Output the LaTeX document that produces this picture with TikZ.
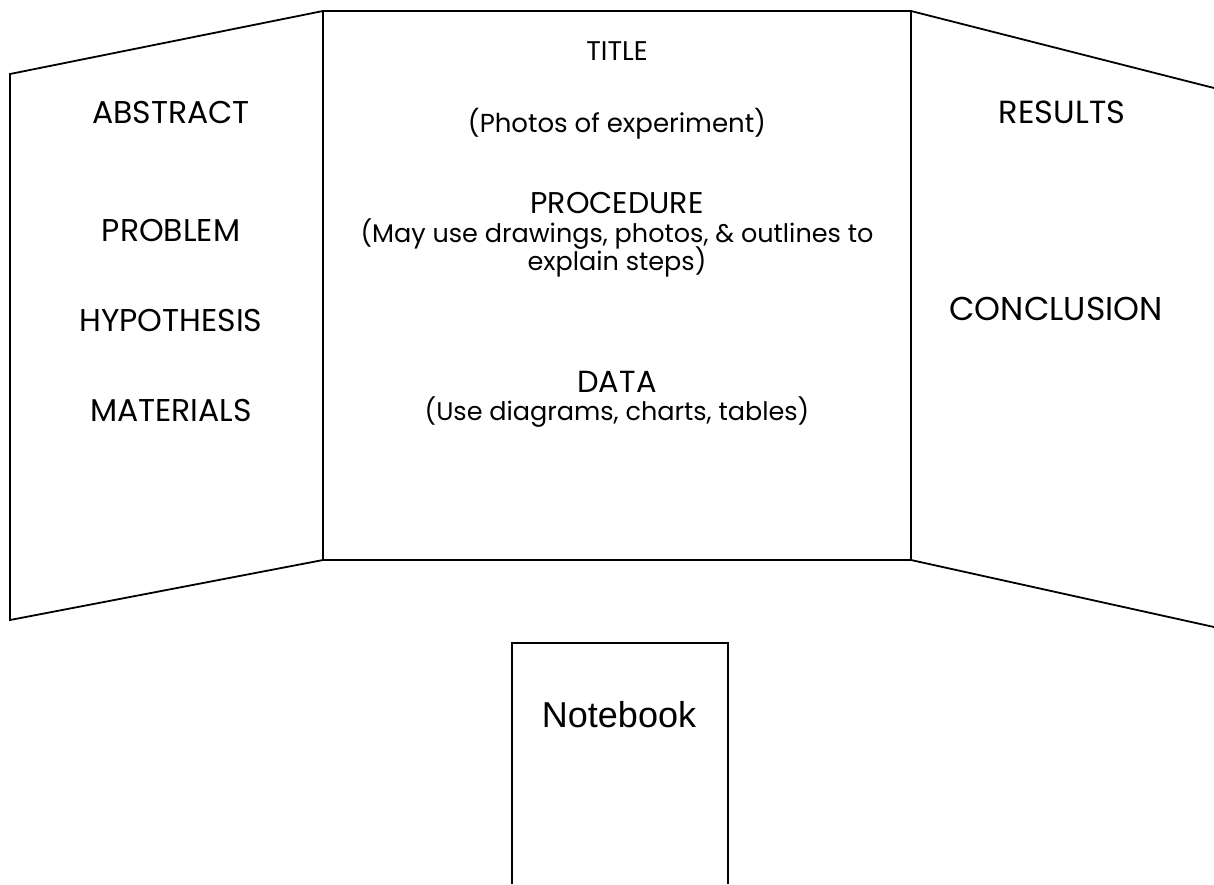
\documentclass[tikz,border=0pt]{standalone}
\usepackage{fontspec}
\setmainfont{Poppins}
\newfontfamily\notefont{Liberation Sans}

\begin{document}
\begin{tikzpicture}[x=1pt,y=-1pt,
	panel/.style={line width=1.8pt,line join=miter},
	bigtext/.style={anchor=base,inner sep=0,font=\fontsize{31.5}{36}\selectfont},
	smalltext/.style={anchor=base,inner sep=0,align=center,font=\fontsize{25.5}{30}\selectfont}]
	\useasboundingbox (0,0) rectangle (1214,884);
	% corners of the board
	\coordinate (lt) at (10,74);
	\coordinate (lb) at (10,620);
	\coordinate (ct) at (323,11);
	\coordinate (cr) at (911,11);
	\coordinate (cb) at (323,560);
	\coordinate (crb) at (911,560);
	\coordinate (rt) at (1214,88);
	\coordinate (rb) at (1214,627);
	\draw[panel] (ct) rectangle (crb);
	\draw[panel] (ct) -- (lt) -- (lb) -- (cb);
	\draw[panel] (rt) -- (cr);
	\draw[panel] (crb) -- (rb);
	% notebook
	\coordinate (nl) at (512,884);
	\coordinate (nr) at (728,884);
	\draw[panel] (nl) -- (512,643) -- (728,643) -- (nr);
	% left panel
	\node[bigtext] (abstract) at (171,123) {ABSTRACT};
	\node[bigtext] (problem) at (171,241) {PROBLEM};
	\node[bigtext] (hypothesis) at (171,331) {HYPOTHESIS};
	\node[bigtext] (materials) at (171,421) {MATERIALS};
	% centre panel
	\node[smalltext,font=\fontsize{27}{30}\selectfont] (title) at (617,60) {TITLE};
	\node[smalltext,font=\fontsize{26}{30}\selectfont] (photos) at (617,132) {(Photos of experiment)};
	\node[bigtext,font=\fontsize{30}{36}\selectfont] (procedure) at (617,213) {PROCEDURE};
	\node[smalltext] (steps1) at (617,242) {(May use drawings, photos, \& outlines to};
	\node[smalltext] (steps2) at (617,270) {explain steps)};
	\node[bigtext,font=\fontsize{30.5}{36}\selectfont] (data) at (617,392) {DATA};
	\node[smalltext] (charts) at (617,420) {(Use diagrams, charts, tables)};
	% right panel
	\node[bigtext,font=\fontsize{32}{36}\selectfont] (results) at (1062,123) {RESULTS};
	\node[bigtext,font=\fontsize{33}{36}\selectfont] (conclusion) at (1056,320) {CONCLUSION};
	% notebook text
	\node[anchor=base,inner sep=0,font=\notefont\fontsize{36}{40}\selectfont] (notebook) at (619,727) {Notebook};
\end{tikzpicture}
\end{document}
